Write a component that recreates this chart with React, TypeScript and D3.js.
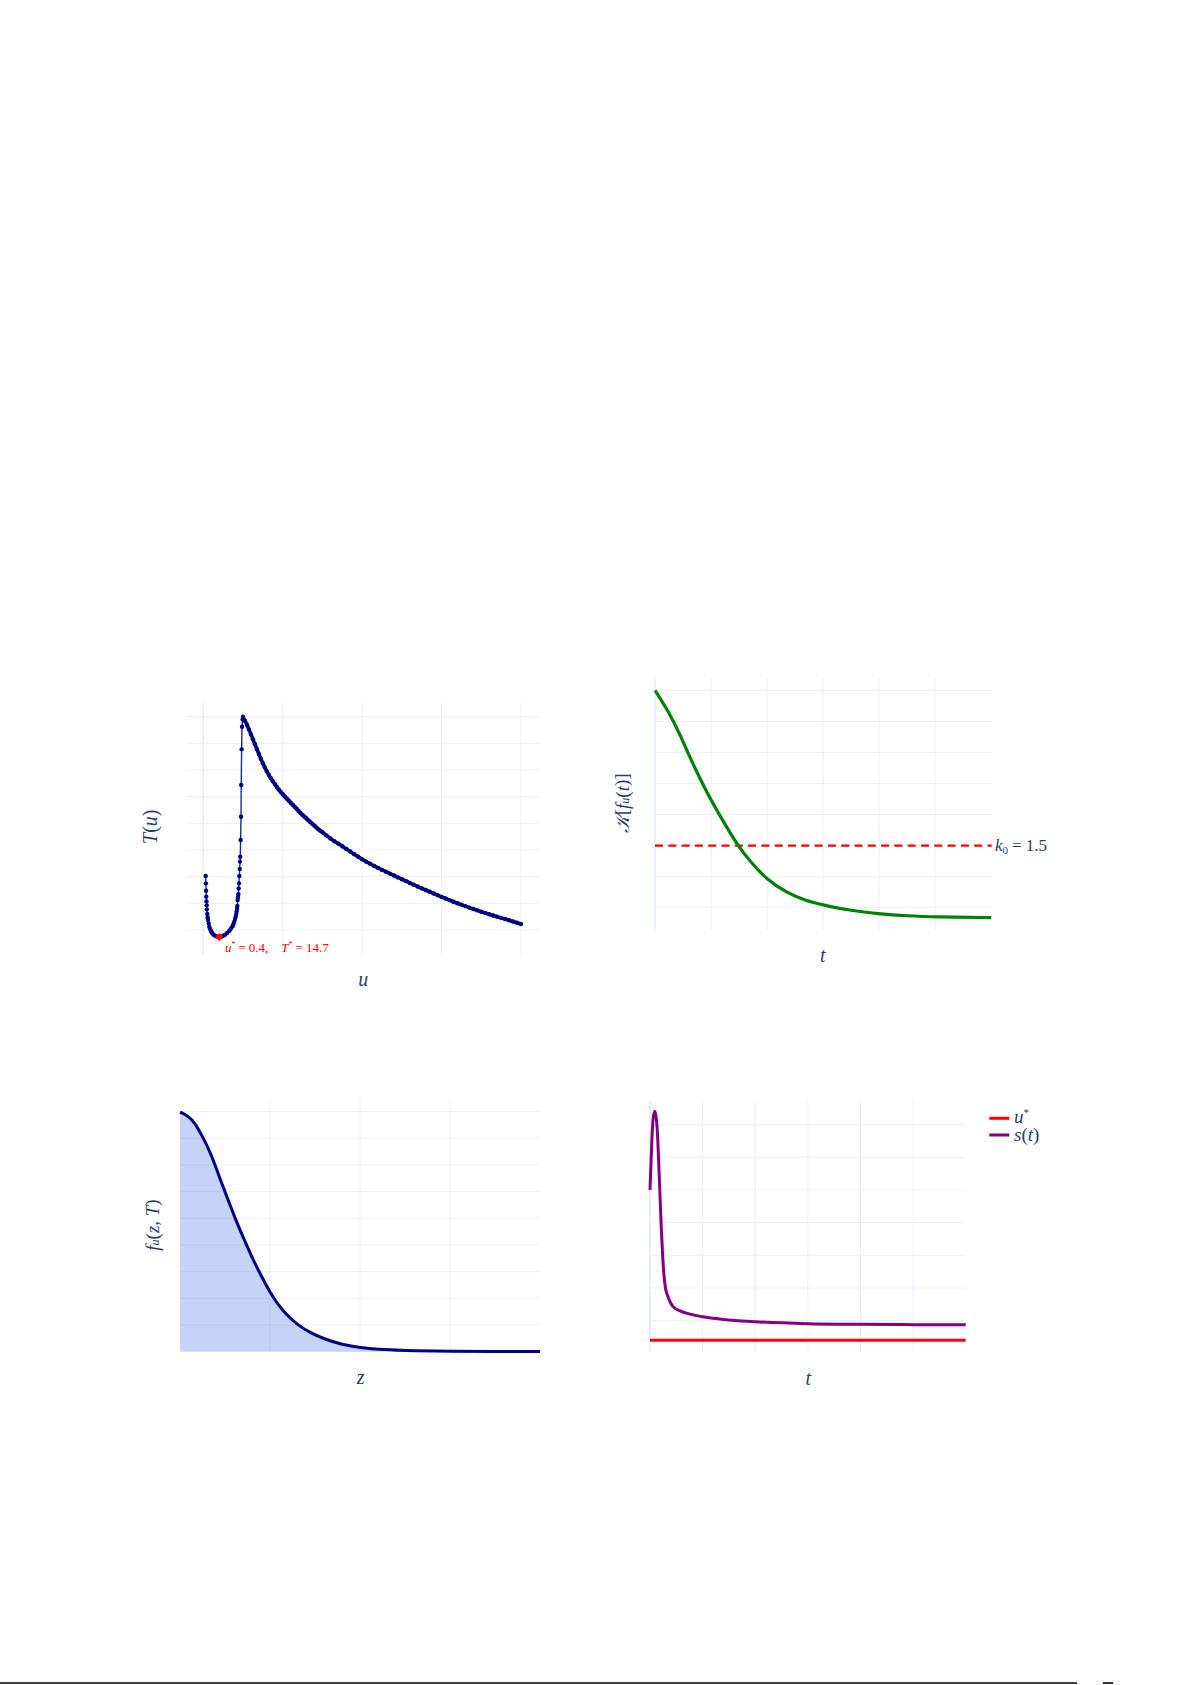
import React from "react";
import * as d3 from "d3";

// ---------- colours / fonts ----------
const NAVY = "#000080";
const GRID = "#EBF0F8";
const TITLE = "#2a3f5f";
const SERIF = "'Liberation Serif','DejaVu Serif',serif";

// ---------- Panel 1 : T(u) ----------
const uLeft = [0.06, 0.065, 0.07, 0.075, 0.08, 0.085, 0.09, 0.1, 0.11, 0.12, 0.135, 0.15, 0.17, 0.19, 0.21, 0.23, 0.26, 0.3, 0.35, 0.4, 0.45, 0.5, 0.55, 0.6, 0.65, 0.68, 0.71, 0.74, 0.76, 0.78, 0.8, 0.815, 0.83, 0.84, 0.85, 0.857, 0.865, 0.873, 0.882, 0.89, 0.899, 0.907, 0.916, 0.924, 0.93, 0.94, 0.95, 0.955, 0.965, 0.975, 0.99];
const TLeft = [60.5, 55, 49.5, 45, 41.5, 38.5, 35.5, 32, 29.5, 27.5, 25, 22.5, 20.8, 19.5, 18.3, 17.4, 16.4, 15.6, 15, 14.7, 15, 15.7, 16.5, 17.8, 19.2, 20.3, 21.8, 23, 24.5, 26.2, 28.2, 30, 32, 33.8, 36, 38, 42.5, 44.5, 46.8, 51.2, 55, 60.5, 65.8, 71.3, 75, 87.5, 105, 128.8, 155.5, 172.5, 178];
const uRight = [1.0, 1.05, 1.1, 1.15, 1.2, 1.25, 1.3, 1.35, 1.4, 1.45, 1.5, 1.55, 1.6, 1.65, 1.7, 1.75, 1.8, 1.85, 1.9, 1.95, 2.0, 2.05, 2.1, 2.15, 2.2, 2.25, 2.3, 2.35, 2.4, 2.45, 2.5, 2.55, 2.6, 2.65, 2.7, 2.75, 2.8, 2.85, 2.9, 2.95, 3.0, 3.1, 3.2, 3.3, 3.4, 3.5, 3.6, 3.7, 3.8, 3.9, 4.0, 4.1, 4.2, 4.3, 4.4, 4.5, 4.6, 4.7, 4.8, 4.9, 5.0, 5.1, 5.2, 5.3, 5.4, 5.5, 5.6, 5.7, 5.8, 5.9, 6.0, 6.1, 6.2, 6.3, 6.4, 6.5, 6.6, 6.7, 6.8, 6.9, 7.0, 7.1, 7.2, 7.3, 7.4, 7.5, 7.6, 7.7, 7.8, 7.9, 8.0];
const TRight = [180, 177, 174, 170.4, 166.7, 163, 159.3, 155.6, 152, 148.3, 145, 142, 139.1, 136.3, 133.9, 131.6, 129.5, 127.4, 125.4, 123.6, 121.8, 120.2, 118.6, 117.1, 115.5, 114, 112.4, 110.9, 109.3, 107.8, 106.3, 104.9, 103.6, 102.2, 100.9, 99.5, 98.2, 96.8, 95.5, 94.4, 93.3, 91, 88.7, 86.6, 84.8, 82.8, 80.8, 78.9, 76.9, 74.9, 73, 71.3, 69.7, 68.1, 66.6, 65.1, 63.7, 62.3, 60.9, 59.5, 58.1, 56.8, 55.3, 53.9, 52.6, 51.3, 50, 48.7, 47.4, 46.1, 44.8, 43.6, 42.4, 41.2, 40.1, 39, 37.9, 36.8, 35.7, 34.7, 33.7, 32.7, 31.8, 30.9, 30, 29.1, 28.2, 27.3, 26.4, 25.5, 24.5];
const uStar = 0.4;
const TStar = 14.7;
const uGrid = [2, 4, 6, 8];
const TGrid = [20, 40, 60, 80, 100, 120, 140, 160, 180];

// ---------- Panel 2 : K[f_u(t)] ----------
const tK = [0, 0.24, 0.45, 0.62, 0.8, 0.98, 1.22, 1.46, 1.7, 2.0, 2.35, 2.7, 3.0, 3.42, 4.0, 4.5, 5.0, 6.0];
const Kvals = [2.5, 2.365, 2.214, 2.07, 1.935, 1.806, 1.655, 1.509, 1.397, 1.279, 1.197, 1.143, 1.118, 1.085, 1.06, 1.047, 1.04, 1.036];
const k0 = 1.5;
const tKGrid = [1, 2, 3, 4, 5];
const KGrid = [1.1, 1.3, 1.5, 1.7, 1.9, 2.1, 2.3, 2.5];

// ---------- Panel 3 : f_u(z,T) ----------
const zVals = [0, 0.09, 0.17, 0.24, 0.32, 0.39, 0.46, 0.54, 0.61, 0.69, 0.76, 0.83, 0.91, 1.0, 1.09, 1.2, 1.32, 1.43, 1.61, 1.8, 2.0, 2.24, 2.61, 3.0, 3.5, 4.0];
const fVals = [0.449, 0.442, 0.428, 0.406, 0.38, 0.35, 0.317, 0.282, 0.251, 0.219, 0.192, 0.166, 0.14, 0.111, 0.088, 0.066, 0.049, 0.037, 0.023, 0.0135, 0.0075, 0.0038, 0.0018, 0.0009, 0.0004, 0.0002];
const zGrid = [1, 2, 3];
const fGrid = [0.05, 0.1, 0.15, 0.2, 0.25, 0.3, 0.35, 0.4, 0.45];

// ---------- Panel 4 : s(t) ----------
const tS = [0, 0.02, 0.04, 0.06, 0.09, 0.11, 0.14, 0.165, 0.19, 0.215, 0.24, 0.265, 0.29, 0.33, 0.38, 0.44, 0.57, 0.76, 1.0, 1.39, 2.0, 3.0, 4.0, 5.0, 6.0];
const sVals = [5.0, 5.86, 6.68, 7.19, 7.41, 7.29, 6.78, 5.86, 4.84, 3.83, 3.01, 2.4, 2.04, 1.79, 1.58, 1.43, 1.3, 1.2, 1.12, 1.04, 0.97, 0.91, 0.89, 0.88, 0.88];
const tSGrid = [1, 2, 3, 4, 5];
const sGrid = [1, 2, 3, 4, 5, 6, 7];

type Box = { x0: number; x1: number; y0: number; y1: number; xd: [number, number]; yd: [number, number] };

const P1: Box = { x0: 186, x1: 540, y0: 702.7, y1: 955, xd: [-0.436, 8.48], yd: [1.25, 190.5] };
const P2: Box = { x0: 655, x1: 991.7, y0: 678, y1: 930, xd: [0, 6.01], yd: [0.956, 2.58] };
const P3: Box = { x0: 180, x1: 540.7, y0: 1101, y1: 1351.7, xd: [0, 4.007], yd: [0, 0.4698] };
const P4: Box = { x0: 650, x1: 965.7, y0: 1101, y1: 1351.7, xd: [0, 6.0], yd: [0.052, 7.72] };

function scales(b: Box) {
  const x = d3.scaleLinear().domain(b.xd).range([b.x0, b.x1]);
  const y = d3.scaleLinear().domain(b.yd).range([b.y1, b.y0]);
  return { x, y };
}

function Grid({ b, xs, ys, xZero }: { b: Box; xs: number[]; ys: number[]; xZero?: boolean }) {
  const { x, y } = scales(b);
  return (
    <g>
      {ys.map((v) => (
        <line key={"h" + v} x1={b.x0} x2={b.x1} y1={y(v)} y2={y(v)} stroke={GRID} strokeWidth={1} />
      ))}
      {xs.map((v) => (
        <line key={"v" + v} x1={x(v)} x2={x(v)} y1={b.y0} y2={b.y1} stroke={GRID} strokeWidth={1} />
      ))}
      {xZero && <line x1={x(0)} x2={x(0)} y1={b.y0} y2={b.y1} stroke={GRID} strokeWidth={2} />}
    </g>
  );
}

function Panel1() {
  const { x, y } = scales(P1);
  const pts: [number, number][] = [
    ...uLeft.map((u, i) => [u, TLeft[i]] as [number, number]),
    ...uRight.map((u, i) => [u, TRight[i]] as [number, number]),
  ];
  const line = d3.line<[number, number]>().x((d) => x(d[0])).y((d) => y(d[1]));
  const rightPts = uRight.map((u, i) => [u, TRight[i]] as [number, number]);
  const dx = x(uStar);
  const dy = y(TStar);
  const r = 4;
  return (
    <g>
      <Grid b={P1} xs={uGrid} ys={TGrid} xZero />
      <path d={line(pts) || ""} fill="none" stroke="#1a2a9c" strokeWidth={1.4} />
      <path d={line(rightPts) || ""} fill="none" stroke={NAVY} strokeWidth={3.6} strokeLinejoin="round" />
      {pts.map((d, i) => (
        <circle key={i} cx={x(d[0])} cy={y(d[1])} r={2.2} fill={NAVY} />
      ))}
      <path d={`M${dx},${dy - r}L${dx + r},${dy}L${dx},${dy + r}L${dx - r},${dy}Z`} fill="#ff0000" />
      <text x={225} y={952} fontFamily={SERIF} fontSize={13} fill="#ff0000">
        <tspan fontStyle="italic">u</tspan>
        <tspan fontSize={8} dy={-5}>*</tspan>
        <tspan dy={5} dx={3}>=</tspan>
        <tspan dx={3}>0.4,</tspan>
        <tspan dx={13} fontStyle="italic">T</tspan>
        <tspan fontSize={8} dy={-5}>*</tspan>
        <tspan dy={5} dx={3}>=</tspan>
        <tspan dx={3}>14.7</tspan>
      </text>
      <text transform="translate(150,826.7) rotate(-90)" textAnchor="middle" dominantBaseline="central" fontFamily={SERIF} fontSize={20} fill={TITLE}>
        <tspan fontStyle="italic">T</tspan>(<tspan fontStyle="italic">u</tspan>)
      </text>
      <text x={363.3} y={986} textAnchor="middle" fontFamily={SERIF} fontSize={20} fontStyle="italic" fill={TITLE}>u</text>
    </g>
  );
}

function Panel2() {
  const { x, y } = scales(P2);
  const pts = tK.map((t, i) => [t, Kvals[i]] as [number, number]);
  const line = d3.line<[number, number]>().x((d) => x(d[0])).y((d) => y(d[1])).curve(d3.curveBasis);
  return (
    <g>
      <Grid b={P2} xs={tKGrid} ys={KGrid} xZero />
      <line x1={P2.x0} x2={P2.x1} y1={y(k0)} y2={y(k0)} stroke="#ff0000" strokeWidth={2.2} strokeDasharray="8,5.3" />
      <path d={line(pts) || ""} fill="none" stroke="#008000" strokeWidth={3.2} strokeLinejoin="round" />
      <text x={995} y={y(k0) + 5} fontFamily={SERIF} fontSize={17} fill={TITLE}>
        <tspan fontStyle="italic">k</tspan>
        <tspan fontSize={11} dy={3}>0</tspan>
        <tspan dy={-3} dx={4}>=</tspan>
        <tspan dx={4}>1.5</tspan>
      </text>
      <text transform="translate(621.7,803.3) rotate(-90)" textAnchor="middle" dominantBaseline="central" fontFamily={SERIF} fontSize={19} fill={TITLE}>
        <tspan fontStyle="italic">𝒦</tspan>[<tspan fontStyle="italic">f</tspan>
        <tspan fontSize={12} fontStyle="italic" dy={3}>u</tspan>
        <tspan dy={-3}>(</tspan><tspan fontStyle="italic">t</tspan>)]
      </text>
      <text x={822.7} y={962} textAnchor="middle" fontFamily={SERIF} fontSize={20} fontStyle="italic" fill={TITLE}>t</text>
    </g>
  );
}

function Panel3() {
  const { x, y } = scales(P3);
  const pts = zVals.map((z, i) => [z, fVals[i]] as [number, number]);
  const line = d3.line<[number, number]>().x((d) => x(d[0])).y((d) => y(d[1])).curve(d3.curveBasis);
  const area = d3.area<[number, number]>().x((d) => x(d[0])).y0(y(0)).y1((d) => y(d[1])).curve(d3.curveBasis);
  return (
    <g>
      <Grid b={P3} xs={zGrid} ys={fGrid} />
      <path d={area(pts) || ""} fill="rgba(65,105,225,0.3)" />
      <path d={line(pts) || ""} fill="none" stroke={NAVY} strokeWidth={3} />
      <text transform="translate(151.7,1225) rotate(-90)" textAnchor="middle" dominantBaseline="central" fontFamily={SERIF} fontSize={19} fill={TITLE}>
        <tspan fontStyle="italic">f</tspan>
        <tspan fontSize={12} fontStyle="italic" dy={3}>u</tspan>
        <tspan dy={-3}>(</tspan><tspan fontStyle="italic">z</tspan>, <tspan fontStyle="italic">T</tspan>)
      </text>
      <text x={360.7} y={1384} textAnchor="middle" fontFamily={SERIF} fontSize={20} fontStyle="italic" fill={TITLE}>z</text>
    </g>
  );
}

function Panel4() {
  const { x, y } = scales(P4);
  const pts = tS.map((t, i) => [t, sVals[i]] as [number, number]);
  const line = d3.line<[number, number]>().x((d) => x(d[0])).y((d) => y(d[1])).curve(d3.curveMonotoneX);
  return (
    <g>
      <Grid b={P4} xs={tSGrid} ys={sGrid} xZero />
      <line x1={x(0)} x2={x(6)} y1={y(uStar)} y2={y(uStar)} stroke="#ff0000" strokeWidth={3} />
      <path d={line(pts) || ""} fill="none" stroke="#800080" strokeWidth={3} strokeLinejoin="round" />
      <text x={808.3} y={1385} textAnchor="middle" fontFamily={SERIF} fontSize={20} fontStyle="italic" fill={TITLE}>t</text>
      {/* legend */}
      <line x1={989.3} x2={1009.3} y1={1118.3} y2={1118.3} stroke="#ff0000" strokeWidth={3} />
      <text x={1014} y={1123} fontFamily={SERIF} fontSize={19} fill={TITLE}>
        <tspan fontStyle="italic">u</tspan>
        <tspan fontSize={11} dy={-7}>*</tspan>
      </text>
      <line x1={989.3} x2={1009.3} y1={1135} y2={1135} stroke="#800080" strokeWidth={3} />
      <text x={1014} y={1141} fontFamily={SERIF} fontSize={19} fill={TITLE}>
        <tspan fontStyle="italic">s</tspan>(<tspan fontStyle="italic">t</tspan>)
      </text>
    </g>
  );
}

export default function App() {
  return (
    <svg width={1192} height={1685} style={{ position: "absolute", left: 0, top: 0, background: "#fff" }}>
      <rect x={0} y={0} width={1192} height={1685} fill="#fff" />
      <Panel1 />
      <Panel2 />
      <Panel3 />
      <Panel4 />
      <line x1={0} x2={1077} y1={1683} y2={1683} stroke="#000" strokeWidth={1.6} />
      <line x1={1103} x2={1113} y1={1683} y2={1683} stroke="#000" strokeWidth={1.6} />
    </svg>
  );
}
